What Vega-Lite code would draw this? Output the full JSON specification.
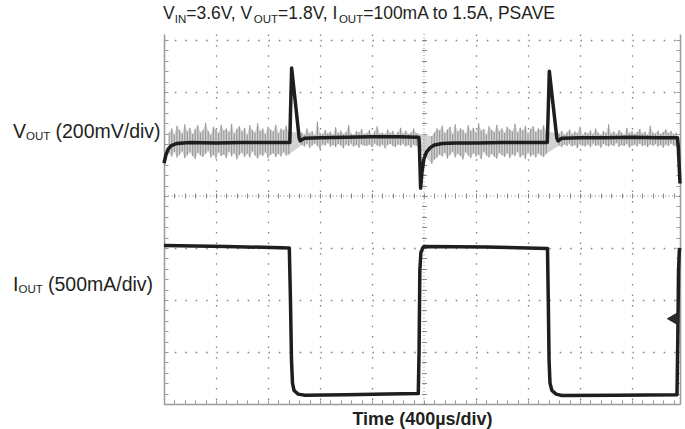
{
  "$schema": "https://vega.github.io/schema/vega-lite/v6.json",
  "autosize": "none",
  "width": 516,
  "height": 370,
  "padding": {"left": 164, "top": 34, "right": 5, "bottom": 25},
  "background": "white",
  "config": {"view": {"stroke": null}, "font": "Liberation Sans"},
  "datasets": {
    "one": [{}],
    "noise": [
      {"t":0.10,"lo":4.82,"hi":5.22},{"t":0.15,"lo":4.76,"hi":5.30},{"t":0.20,"lo":4.85,"hi":5.18},{"t":0.25,"lo":4.74,"hi":5.35},
      {"t":0.30,"lo":4.80,"hi":5.27},{"t":0.35,"lo":4.86,"hi":5.20},{"t":0.40,"lo":4.73,"hi":5.38},{"t":0.45,"lo":4.79,"hi":5.24},
      {"t":0.50,"lo":4.84,"hi":5.31},{"t":0.55,"lo":4.77,"hi":5.19},{"t":0.60,"lo":4.71,"hi":5.29},{"t":0.65,"lo":4.83,"hi":5.36},
      {"t":0.70,"lo":4.78,"hi":5.22},{"t":0.75,"lo":4.75,"hi":5.27},{"t":0.80,"lo":4.81,"hi":5.41},{"t":0.85,"lo":4.87,"hi":5.25},
      {"t":0.90,"lo":4.74,"hi":5.18},{"t":0.95,"lo":4.79,"hi":5.33},{"t":1.00,"lo":4.72,"hi":5.28},{"t":1.05,"lo":4.84,"hi":5.21},
      {"t":1.10,"lo":4.77,"hi":5.37},{"t":1.15,"lo":4.80,"hi":5.26},{"t":1.20,"lo":4.73,"hi":5.30},{"t":1.25,"lo":4.85,"hi":5.23},
      {"t":1.30,"lo":4.76,"hi":5.39},{"t":1.35,"lo":4.82,"hi":5.20},{"t":1.40,"lo":4.70,"hi":5.29},{"t":1.45,"lo":4.79,"hi":5.34},
      {"t":1.50,"lo":4.83,"hi":5.24},{"t":1.55,"lo":4.75,"hi":5.31},{"t":1.60,"lo":4.81,"hi":5.18},{"t":1.65,"lo":4.74,"hi":5.36},
      {"t":1.70,"lo":4.86,"hi":5.27},{"t":1.75,"lo":4.78,"hi":5.22},{"t":1.80,"lo":4.72,"hi":5.40},{"t":1.85,"lo":4.80,"hi":5.25},
      {"t":1.90,"lo":4.77,"hi":5.30},{"t":1.95,"lo":4.84,"hi":5.19},{"t":2.00,"lo":4.73,"hi":5.33},{"t":2.05,"lo":4.79,"hi":5.28},
      {"t":2.10,"lo":4.82,"hi":5.24},{"t":2.15,"lo":4.75,"hi":5.37},{"t":2.20,"lo":4.81,"hi":5.21},{"t":2.25,"lo":4.76,"hi":5.30},
      {"t":2.30,"lo":4.84,"hi":5.26},{"t":2.35,"lo":4.78,"hi":5.35},{"t":2.40,"lo":4.80,"hi":5.23},
      {"t":2.65,"lo":4.98,"hi":5.22},{"t":2.70,"lo":4.95,"hi":5.18},{"t":2.75,"lo":5.00,"hi":5.30},{"t":2.80,"lo":4.93,"hi":5.20},
      {"t":2.85,"lo":4.97,"hi":5.25},{"t":2.90,"lo":5.01,"hi":5.17},{"t":2.95,"lo":4.96,"hi":5.43},{"t":3.00,"lo":4.90,"hi":5.21},
      {"t":3.05,"lo":4.99,"hi":5.19},{"t":3.10,"lo":4.97,"hi":5.27},{"t":3.15,"lo":5.02,"hi":5.20},{"t":3.20,"lo":4.95,"hi":5.24},
      {"t":3.25,"lo":4.98,"hi":5.18},{"t":3.30,"lo":4.94,"hi":5.32},{"t":3.35,"lo":5.00,"hi":5.21},{"t":3.40,"lo":4.97,"hi":5.26},
      {"t":3.45,"lo":4.92,"hi":5.19},{"t":3.50,"lo":4.99,"hi":5.23},{"t":3.55,"lo":4.96,"hi":5.36},{"t":3.60,"lo":5.01,"hi":5.20},
      {"t":3.65,"lo":4.95,"hi":5.18},{"t":3.70,"lo":4.98,"hi":5.25},{"t":3.75,"lo":4.93,"hi":5.22},{"t":3.80,"lo":5.00,"hi":5.29},
      {"t":3.85,"lo":4.97,"hi":5.19},{"t":3.90,"lo":4.96,"hi":5.21},{"t":3.95,"lo":4.99,"hi":5.27},{"t":4.00,"lo":4.94,"hi":5.18},
      {"t":4.05,"lo":5.01,"hi":5.24},{"t":4.10,"lo":4.97,"hi":5.34},{"t":4.15,"lo":4.95,"hi":5.20},{"t":4.20,"lo":4.99,"hi":5.22},
      {"t":4.25,"lo":4.92,"hi":5.19},{"t":4.30,"lo":4.98,"hi":5.28},{"t":4.35,"lo":5.00,"hi":5.21},{"t":4.40,"lo":4.96,"hi":5.25},
      {"t":4.45,"lo":4.94,"hi":5.18},{"t":4.50,"lo":4.99,"hi":5.23},{"t":4.55,"lo":4.97,"hi":5.31},{"t":4.60,"lo":5.01,"hi":5.20},
      {"t":4.65,"lo":4.95,"hi":5.26},{"t":4.70,"lo":4.98,"hi":5.19},{"t":4.75,"lo":4.93,"hi":5.22},{"t":4.80,"lo":4.99,"hi":5.30},
      {"t":4.85,"lo":4.97,"hi":5.21},
      {"t":5.15,"lo":4.62,"hi":5.15},{"t":5.20,"lo":4.70,"hi":5.22},{"t":5.25,"lo":4.74,"hi":5.30},{"t":5.30,"lo":4.80,"hi":5.26},
      {"t":5.35,"lo":4.76,"hi":5.35},{"t":5.40,"lo":4.83,"hi":5.21},{"t":5.45,"lo":4.72,"hi":5.28},{"t":5.50,"lo":4.79,"hi":5.33},
      {"t":5.55,"lo":4.85,"hi":5.19},{"t":5.60,"lo":4.74,"hi":5.38},{"t":5.65,"lo":4.81,"hi":5.24},{"t":5.70,"lo":4.77,"hi":5.30},
      {"t":5.75,"lo":4.70,"hi":5.27},{"t":5.80,"lo":4.84,"hi":5.20},{"t":5.85,"lo":4.78,"hi":5.36},{"t":5.90,"lo":4.73,"hi":5.25},
      {"t":5.95,"lo":4.82,"hi":5.31},{"t":6.00,"lo":4.76,"hi":5.22},{"t":6.05,"lo":4.80,"hi":5.40},{"t":6.10,"lo":4.71,"hi":5.26},
      {"t":6.15,"lo":4.85,"hi":5.29},{"t":6.20,"lo":4.78,"hi":5.18},{"t":6.25,"lo":4.74,"hi":5.34},{"t":6.30,"lo":4.81,"hi":5.27},
      {"t":6.35,"lo":4.76,"hi":5.23},{"t":6.40,"lo":4.72,"hi":5.37},{"t":6.45,"lo":4.83,"hi":5.25},{"t":6.50,"lo":4.79,"hi":5.30},
      {"t":6.55,"lo":4.75,"hi":5.21},{"t":6.60,"lo":4.82,"hi":5.33},{"t":6.65,"lo":4.73,"hi":5.28},{"t":6.70,"lo":4.80,"hi":5.24},
      {"t":6.75,"lo":4.77,"hi":5.39},{"t":6.80,"lo":4.85,"hi":5.22},{"t":6.85,"lo":4.74,"hi":5.31},{"t":6.90,"lo":4.79,"hi":5.26},
      {"t":6.95,"lo":4.71,"hi":5.35},{"t":7.00,"lo":4.83,"hi":5.20},{"t":7.05,"lo":4.76,"hi":5.29},{"t":7.10,"lo":4.80,"hi":5.34},
      {"t":7.15,"lo":4.74,"hi":5.23},{"t":7.20,"lo":4.82,"hi":5.30},{"t":7.25,"lo":4.78,"hi":5.27},{"t":7.30,"lo":4.75,"hi":5.36},
      {"t":7.35,"lo":4.81,"hi":5.24},
      {"t":7.60,"lo":4.97,"hi":5.20},{"t":7.65,"lo":4.94,"hi":5.25},{"t":7.70,"lo":4.99,"hi":5.18},{"t":7.75,"lo":4.96,"hi":5.22},
      {"t":7.80,"lo":5.01,"hi":5.28},{"t":7.85,"lo":4.95,"hi":5.19},{"t":7.90,"lo":4.98,"hi":5.24},{"t":7.95,"lo":4.92,"hi":5.21},
      {"t":8.00,"lo":5.00,"hi":5.33},{"t":8.05,"lo":4.97,"hi":5.18},{"t":8.10,"lo":4.95,"hi":5.23},{"t":8.15,"lo":4.99,"hi":5.20},
      {"t":8.20,"lo":4.94,"hi":5.26},{"t":8.25,"lo":5.01,"hi":5.19},{"t":8.30,"lo":4.96,"hi":5.30},{"t":8.35,"lo":4.98,"hi":5.22},
      {"t":8.40,"lo":4.93,"hi":5.18},{"t":8.45,"lo":5.00,"hi":5.25},{"t":8.50,"lo":4.97,"hi":5.21},{"t":8.55,"lo":4.95,"hi":5.38},
      {"t":8.60,"lo":4.99,"hi":5.20},{"t":8.65,"lo":4.96,"hi":5.24},{"t":8.70,"lo":5.02,"hi":5.19},{"t":8.75,"lo":4.94,"hi":5.27},
      {"t":8.80,"lo":4.98,"hi":5.22},{"t":8.85,"lo":4.96,"hi":5.18},{"t":8.90,"lo":5.00,"hi":5.31},{"t":8.95,"lo":4.93,"hi":5.21},
      {"t":9.00,"lo":4.97,"hi":5.25},{"t":9.05,"lo":4.99,"hi":5.19},{"t":9.10,"lo":4.95,"hi":5.23},{"t":9.15,"lo":5.01,"hi":5.29},
      {"t":9.20,"lo":4.96,"hi":5.20},{"t":9.25,"lo":4.98,"hi":5.24},{"t":9.30,"lo":4.94,"hi":5.18},{"t":9.35,"lo":4.99,"hi":5.35},
      {"t":9.40,"lo":4.97,"hi":5.22},{"t":9.45,"lo":5.00,"hi":5.20},{"t":9.50,"lo":4.95,"hi":5.26},{"t":9.55,"lo":4.98,"hi":5.19},
      {"t":9.60,"lo":4.93,"hi":5.23},{"t":9.65,"lo":4.99,"hi":5.28},{"t":9.70,"lo":4.96,"hi":5.21},{"t":9.75,"lo":5.01,"hi":5.25},
      {"t":9.80,"lo":4.97,"hi":5.19},{"t":9.85,"lo":4.95,"hi":5.22}
    ],
    "traces": [
      {"s":"v","t":0,"v":4.63},{"s":"v","t":0.04,"v":4.80},{"s":"v","t":0.08,"v":4.90},{"s":"v","t":0.14,"v":4.97},
      {"s":"v","t":0.25,"v":5.01},{"s":"v","t":0.5,"v":5.03},{"s":"v","t":1.0,"v":5.02},{"s":"v","t":1.5,"v":5.03},
      {"s":"v","t":2.0,"v":5.03},{"s":"v","t":2.42,"v":5.03},{"s":"v","t":2.43,"v":5.5},{"s":"v","t":2.455,"v":6.46},
      {"s":"v","t":2.6,"v":5.11},{"s":"v","t":2.62,"v":5.06},{"s":"v","t":2.7,"v":5.11},{"s":"v","t":3.0,"v":5.12},
      {"s":"v","t":3.5,"v":5.13},{"s":"v","t":4.0,"v":5.14},{"s":"v","t":4.5,"v":5.14},{"s":"v","t":4.9,"v":5.13},
      {"s":"v","t":4.91,"v":5.0},{"s":"v","t":4.935,"v":4.15},{"s":"v","t":4.96,"v":4.45},{"s":"v","t":5.0,"v":4.72},
      {"s":"v","t":5.05,"v":4.85},{"s":"v","t":5.12,"v":4.93},{"s":"v","t":5.2,"v":4.98},{"s":"v","t":5.35,"v":5.01},
      {"s":"v","t":5.6,"v":5.02},{"s":"v","t":6.0,"v":5.02},{"s":"v","t":6.5,"v":5.03},{"s":"v","t":7.0,"v":5.03},
      {"s":"v","t":7.37,"v":5.03},{"s":"v","t":7.385,"v":5.5},{"s":"v","t":7.41,"v":6.40},{"s":"v","t":7.555,"v":5.11},
      {"s":"v","t":7.58,"v":5.06},{"s":"v","t":7.65,"v":5.11},{"s":"v","t":8.0,"v":5.12},{"s":"v","t":8.5,"v":5.12},
      {"s":"v","t":9.0,"v":5.13},{"s":"v","t":9.5,"v":5.12},{"s":"v","t":9.875,"v":5.12},{"s":"v","t":9.89,"v":4.95},
      {"s":"v","t":9.923,"v":4.24},
      {"s":"i","t":0,"v":3.05},{"s":"i","t":1.2,"v":3.03},{"s":"i","t":2.41,"v":3.00},{"s":"i","t":2.432,"v":1.99},
      {"s":"i","t":2.452,"v":0.84},{"s":"i","t":2.471,"v":0.40},{"s":"i","t":2.5,"v":0.26},{"s":"i","t":2.58,"v":0.19},
      {"s":"i","t":2.71,"v":0.17},{"s":"i","t":3.5,"v":0.18},{"s":"i","t":4.3,"v":0.19},{"s":"i","t":4.89,"v":0.20},
      {"s":"i","t":4.905,"v":1.0},{"s":"i","t":4.92,"v":2.57},{"s":"i","t":4.94,"v":2.91},{"s":"i","t":4.98,"v":3.01},
      {"s":"i","t":5.0,"v":3.03},{"s":"i","t":6.2,"v":3.02},{"s":"i","t":7.375,"v":2.99},{"s":"i","t":7.39,"v":2.0},
      {"s":"i","t":7.405,"v":0.84},{"s":"i","t":7.423,"v":0.40},{"s":"i","t":7.46,"v":0.26},{"s":"i","t":7.54,"v":0.19},
      {"s":"i","t":7.65,"v":0.165},{"s":"i","t":8.7,"v":0.17},{"s":"i","t":9.865,"v":0.18},{"s":"i","t":9.88,"v":1.2},
      {"s":"i","t":9.895,"v":2.57},{"s":"i","t":9.91,"v":2.95},{"s":"i","t":9.923,"v":3.0}
    ],
    "marker": [{"t": 9.78, "v": 1.64}]
  },
  "layer": [
    {
      "data": {"name": "noise"},
      "mark": {"type": "area", "color": "#d2d2d2", "opacity": 1},
      "encoding": {
        "x": {"field": "t", "type": "quantitative",
              "scale": {"domain": [0, 9.923], "nice": false, "zero": false},
              "axis": {"values": [1, 2, 3, 4, 6, 7, 8, 9], "grid": true, "gridDash": [1.5, 8.9], "gridColor": "#808080", "gridWidth": 1.3,
                       "ticks": false, "labels": false, "domain": false, "title": null}},
        "y": {"field": "lo", "type": "quantitative",
              "scale": {"domain": [0, 7.115], "nice": false, "zero": false},
              "axis": {"values": [1, 2, 3, 5, 6, 7], "grid": true, "gridDash": [1.5, 8.9], "gridColor": "#808080", "gridWidth": 1.3,
                       "ticks": false, "labels": false, "domain": false, "title": null}},
        "y2": {"field": "hi"}
      }
    },
    {
      "data": {"name": "noise"},
      "mark": {"type": "rule", "color": "#9a9a9a", "strokeWidth": 1.2},
      "encoding": {
        "x": {"field": "t", "type": "quantitative", "axis": null},
        "y": {"field": "lo", "type": "quantitative", "axis": null},
        "y2": {"field": "hi"}
      }
    },
    {
      "data": {"name": "one"},
      "mark": {"type": "rule", "color": "#8a8a8a", "strokeWidth": 1, "strokeDash": [1, 2.5]},
      "encoding": {
        "x": {"datum": 5, "type": "quantitative",
              "axis": {"orient": "bottom", "offset": -211, "domain": false, "tickCount": 50, "tickSize": 5, "tickColor": "#8a8a8a", "tickWidth": 1,
                       "labels": false, "grid": false, "title": null}}
      }
    },
    {
      "data": {"name": "one"},
      "mark": {"type": "rule", "color": "#8a8a8a", "strokeWidth": 1, "strokeDash": [1, 2.5]},
      "encoding": {
        "y": {"datum": 4, "type": "quantitative",
              "axis": {"orient": "left", "offset": -262.5, "domain": false, "tickCount": 36, "tickSize": 5, "tickColor": "#8a8a8a", "tickWidth": 1,
                       "labels": false, "grid": false, "title": null}}
      }
    },
    {
      "data": {"name": "traces"},
      "mark": {"type": "line", "color": "#1e1e1e", "strokeWidth": 3.5, "strokeJoin": "round"},
      "encoding": {
        "x": {"field": "t", "type": "quantitative",
              "axis": {"orient": "bottom", "domain": true, "domainColor": "#9a9a9a", "domainWidth": 1.5, "tickCount": 50, "tickSize": -4,
                       "tickColor": "#9a9a9a", "labels": false, "grid": false,
                       "title": "Time (400µs/div)", "titleFont": "Liberation Sans", "titleFontSize": 18, "titleFontWeight": "bold",
                       "titleColor": "#231f20", "titlePadding": 6}},
        "y": {"field": "v", "type": "quantitative",
              "axis": {"orient": "left", "domain": true, "domainColor": "#9a9a9a", "domainWidth": 1.5, "tickCount": 36, "tickSize": -4,
                       "tickColor": "#9a9a9a", "labels": false, "grid": false, "title": null}},
        "detail": {"field": "s"},
        "order": {"field": "t", "type": "quantitative"}
      }
    },
    {
      "data": {"name": "marker"},
      "mark": {"type": "point", "shape": "triangle-left", "filled": true, "fill": "#2a2a2a", "stroke": "#2a2a2a", "strokeWidth": 1, "size": 140, "opacity": 1},
      "encoding": {
        "x": {"field": "t", "type": "quantitative", "axis": null},
        "y": {"field": "v", "type": "quantitative",
              "axis": {"orient": "right", "domain": true, "domainColor": "#9a9a9a", "domainWidth": 1.5, "tickCount": 36, "tickSize": -4,
                       "tickColor": "#9a9a9a", "labels": false, "grid": false, "title": null}}
      }
    },
    {"data": {"name": "one"},
     "mark": {"type": "text", "text": "V", "fontSize": 17.5, "align": "left", "baseline": "alphabetic", "color": "#231f20", "dx": -1},
     "encoding": {"x": {"datum": 0, "type": "quantitative", "axis": null}, "y": {"datum": 7.413, "type": "quantitative", "axis": null}}},
    {"data": {"name": "one"},
     "mark": {"type": "text", "text": "IN", "fontSize": 11.5, "align": "left", "baseline": "alphabetic", "color": "#231f20", "dx": 10.7, "dy": 4},
     "encoding": {"x": {"datum": 0, "type": "quantitative", "axis": null}, "y": {"datum": 7.413, "type": "quantitative", "axis": null}}},
    {"data": {"name": "one"},
     "mark": {"type": "text", "text": "=3.6V, V", "fontSize": 17.5, "align": "left", "baseline": "alphabetic", "color": "#231f20", "dx": 22.2},
     "encoding": {"x": {"datum": 0, "type": "quantitative", "axis": null}, "y": {"datum": 7.413, "type": "quantitative", "axis": null}}},
    {"data": {"name": "one"},
     "mark": {"type": "text", "text": "OUT", "fontSize": 11.5, "align": "left", "baseline": "alphabetic", "color": "#231f20", "dx": 89.8, "dy": 4},
     "encoding": {"x": {"datum": 0, "type": "quantitative", "axis": null}, "y": {"datum": 7.413, "type": "quantitative", "axis": null}}},
    {"data": {"name": "one"},
     "mark": {"type": "text", "text": "=1.8V, I", "fontSize": 17.5, "align": "left", "baseline": "alphabetic", "color": "#231f20", "dx": 114.1},
     "encoding": {"x": {"datum": 0, "type": "quantitative", "axis": null}, "y": {"datum": 7.413, "type": "quantitative", "axis": null}}},
    {"data": {"name": "one"},
     "mark": {"type": "text", "text": "OUT", "fontSize": 11.5, "align": "left", "baseline": "alphabetic", "color": "#231f20", "dx": 174.9, "dy": 4},
     "encoding": {"x": {"datum": 0, "type": "quantitative", "axis": null}, "y": {"datum": 7.413, "type": "quantitative", "axis": null}}},
    {"data": {"name": "one"},
     "mark": {"type": "text", "text": "=100mA to 1.5A, PSAVE", "fontSize": 17.5, "align": "left", "baseline": "alphabetic", "color": "#231f20", "dx": 199.2},
     "encoding": {"x": {"datum": 0, "type": "quantitative", "axis": null}, "y": {"datum": 7.413, "type": "quantitative", "axis": null}}},
    {"data": {"name": "one"},
     "mark": {"type": "text", "text": "V", "fontSize": 19.5, "align": "left", "baseline": "alphabetic", "color": "#231f20"},
     "encoding": {"x": {"datum": -2.904, "type": "quantitative", "axis": null}, "y": {"datum": 5.115, "type": "quantitative", "axis": null}}},
    {"data": {"name": "one"},
     "mark": {"type": "text", "text": "OUT", "fontSize": 11.5, "align": "left", "baseline": "alphabetic", "color": "#231f20", "dx": 13, "dy": 2},
     "encoding": {"x": {"datum": -2.904, "type": "quantitative", "axis": null}, "y": {"datum": 5.115, "type": "quantitative", "axis": null}}},
    {"data": {"name": "one"},
     "mark": {"type": "text", "text": "(200mV/div)", "fontSize": 19.5, "align": "left", "baseline": "alphabetic", "color": "#231f20", "dx": 42.5},
     "encoding": {"x": {"datum": -2.904, "type": "quantitative", "axis": null}, "y": {"datum": 5.115, "type": "quantitative", "axis": null}}},
    {"data": {"name": "one"},
     "mark": {"type": "text", "text": "I", "fontSize": 19.5, "align": "left", "baseline": "alphabetic", "color": "#231f20"},
     "encoding": {"x": {"datum": -2.904, "type": "quantitative", "axis": null}, "y": {"datum": 2.173, "type": "quantitative", "axis": null}}},
    {"data": {"name": "one"},
     "mark": {"type": "text", "text": "OUT", "fontSize": 11.5, "align": "left", "baseline": "alphabetic", "color": "#231f20", "dx": 5.6, "dy": 2},
     "encoding": {"x": {"datum": -2.904, "type": "quantitative", "axis": null}, "y": {"datum": 2.173, "type": "quantitative", "axis": null}}},
    {"data": {"name": "one"},
     "mark": {"type": "text", "text": "(500mA/div)", "fontSize": 19.5, "align": "left", "baseline": "alphabetic", "color": "#231f20", "dx": 35},
     "encoding": {"x": {"datum": -2.904, "type": "quantitative", "axis": null}, "y": {"datum": 2.173, "type": "quantitative", "axis": null}}}
  ],
  "resolve": {"axis": {"x": "independent", "y": "independent"}}
}
